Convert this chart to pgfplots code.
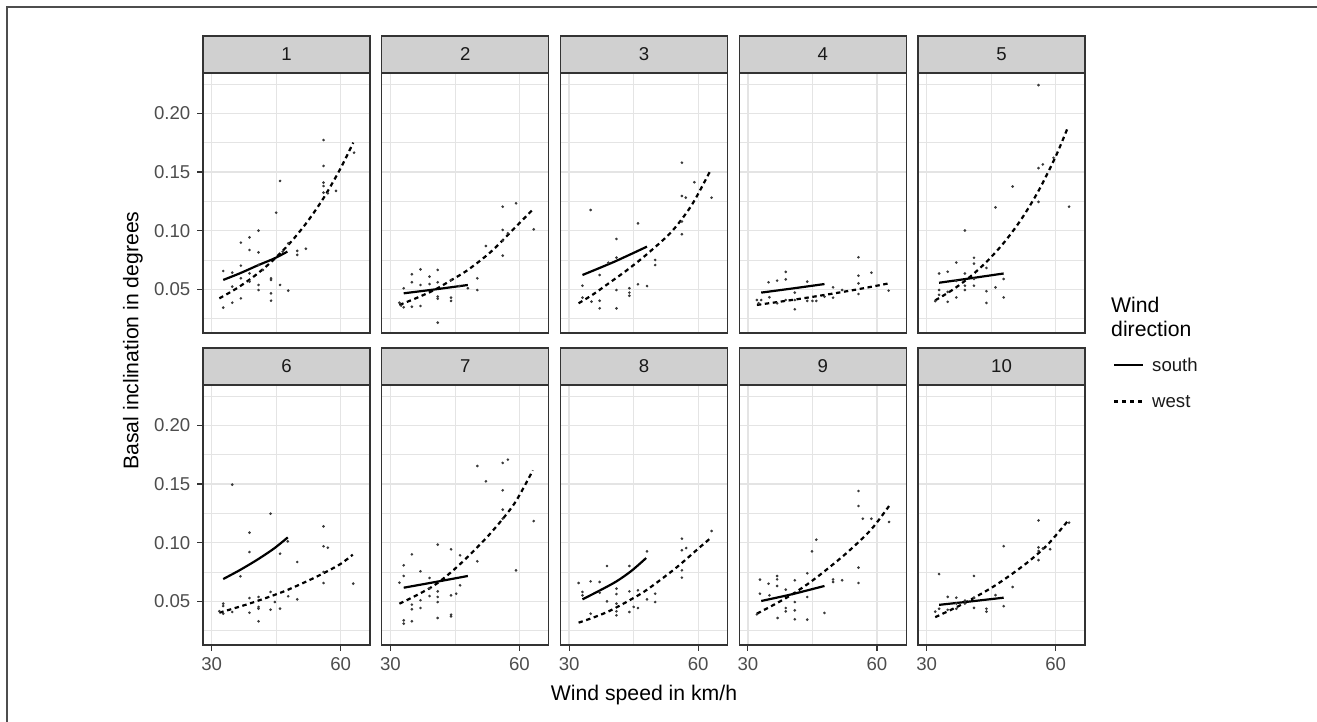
\documentclass[border=0pt]{standalone}
\usepackage{fontspec}
\setmainfont{Liberation Sans}
\usepackage{pgfplots}
\pgfplotsset{compat=1.18}
\definecolor{grey20}{HTML}{333333}
\definecolor{grey30}{HTML}{4D4D4D}
\definecolor{gridc}{HTML}{E4E4E4}
\definecolor{stripc}{HTML}{D0D0D0}
\definecolor{ptc}{HTML}{3A3A3A}
\newcommand{\tickfont}{\fontsize{9.3}{11}\selectfont}
\newcommand{\titlefont}{\fontsize{10.6}{12.5}\selectfont}
\pgfplotsset{
  facet/.style={
    scale only axis, width=83.5pt, height=130pt, anchor=south west,
    xmin=28, xmax=66.8, ymin=0.0128, ymax=0.2343,
    xtick={30,60}, ytick={0.05,0.10,0.15,0.20},
    minor xtick={45}, minor ytick={0.025,0.075,0.125,0.175,0.225},
    xticklabels={}, yticklabels={},
    xtick pos=bottom, ytick pos=left,
    grid=both,
    major grid style={line width=0.7pt, draw=gridc},
    minor grid style={line width=0.4pt, draw=gridc},
    axis line style={draw=grey20, line width=0.6pt},
    tick align=outside, major tick length=2.8pt, minor tick length=0pt,
    minor tick style={draw=none},
    tick style={color=grey20, line width=0.6pt},
    tick label style={font=\tickfont, text=grey30},
  },
  pts/.style={only marks, mark=*, mark size=0.45pt, color=ptc},
  south/.style={no marks, smooth, black, line width=1.1pt},
  west/.style={no marks, smooth, black, line width=1.1pt, dash pattern=on 2.2pt off 1.8pt},
}
\begin{document}
\begin{tikzpicture}
\useasboundingbox (0,0) rectangle (658.5pt,361pt);
\draw[grey30, line width=0.6pt] (3.5pt,0pt) -- (3.5pt,357.5pt) -- (658.5pt,357.5pt);

% ---------- Row 1 ----------
\begin{axis}[facet, name=p1, at={(101.5pt,194.5pt)}, yticklabels={0.05,0.10,0.15,0.20}, xtick style={draw=none}]
\addplot[pts] coordinates {(32.7,0.0656)(32.7,0.0344)(34.8,0.0642)(34.8,0.0523)(34.8,0.0386)(36.8,0.0898)(36.8,0.0702)(36.8,0.0594)(36.8,0.0423)(38.8,0.0943)(38.8,0.0835)(38.8,0.0636)(38.8,0.0565)(40.9,0.1000)(40.9,0.0815)(40.9,0.0707)(40.9,0.0537)(40.9,0.0494)(41.9,0.0665)(43.8,0.0594)(43.8,0.0580)(43.8,0.0466)(43.8,0.0403)(45.0,0.1153)(45.9,0.1423)(45.9,0.0537)(47.8,0.0892)(47.8,0.0489)(49.9,0.0827)(49.9,0.0793)(51.9,0.0846)(56.0,0.1772)(56.0,0.1551)(56.0,0.1409)(56.0,0.1380)(56.0,0.1324)(57.0,0.1318)(58.9,0.1338)(63.1,0.1664)(46.5,0.0821)};
\addplot[south] coordinates {(32.7,0.058)(36.8,0.0640)(40.9,0.0707)(44.5,0.0762)(47.6,0.0821)};
\addplot[west] coordinates {(31.8,0.0423)(36,0.0512)(40,0.0615)(44,0.0738)(48,0.0886)(52,0.1064)(56,0.1277)(60,0.1533)(62.9,0.1750)};
\end{axis}

\begin{axis}[facet, name=p2, at={(190.875pt,194.5pt)}, xtick style={draw=none}, ytick style={draw=none}]
\addplot[pts] coordinates {(32.1,0.0386)(32.5,0.0361)(33.1,0.0509)(33.1,0.0347)(35.0,0.0628)(35.0,0.0560)(35.0,0.0352)(37.0,0.0670)(37.0,0.0537)(37.0,0.0358)(39.1,0.0608)(39.1,0.0545)(41.0,0.0665)(41.0,0.0560)(41.0,0.0438)(41.0,0.0420)(41.0,0.0216)(44.1,0.0580)(44.1,0.0429)(44.1,0.0401)(46.0,0.0528)(48.0,0.0509)(50.2,0.0594)(50.2,0.0494)(52.2,0.0869)(56.1,0.1204)(56.1,0.1006)(56.1,0.0915)(56.1,0.0787)(57.3,0.0977)(59.2,0.1233)(63.3,0.1011)};
\addplot[south] coordinates {(33.1,0.0466)(40.5,0.0500)(48.0,0.0537)};
\addplot[west] coordinates {(32.1,0.0367)(36.0,0.0425)(40.2,0.0494)(44.0,0.0575)(48.0,0.0665)(53.4,0.0821)(58.8,0.1020)(63.1,0.1180)};
\end{axis}

\begin{axis}[facet, name=p3, at={(280.25pt,194.5pt)}, xtick style={draw=none}, ytick style={draw=none}]
\addplot[pts] coordinates {(33.1,0.0531)(33.1,0.0429)(35.0,0.1176)(35.2,0.0395)(37.1,0.0622)(37.1,0.0403)(37.1,0.0338)(39.1,0.0727)(41.0,0.0929)(41.0,0.0770)(41.0,0.0494)(41.0,0.0338)(44.0,0.0509)(44.0,0.0472)(44.0,0.0446)(46.0,0.1062)(46.0,0.0543)(48.1,0.0528)(50.0,0.0750)(50.0,0.0707)(56.2,0.1579)(56.2,0.1295)(57.1,0.1281)(56.2,0.1077)(56.2,0.0969)(59.1,0.1412)(63.1,0.1281)};
\addplot[south] coordinates {(33.1,0.0622)(40.5,0.0735)(48.1,0.0864)};
\addplot[west] coordinates {(32.2,0.0381)(35.5,0.0455)(39.2,0.0551)(43.5,0.0665)(48.1,0.0800)(53.8,0.0991)(58.5,0.1219)(62.9,0.1517)};
\end{axis}

\begin{axis}[facet, name=p4, at={(369.625pt,194.5pt)}, xtick style={draw=none}, ytick style={draw=none}]
\addplot[pts] coordinates {(32.1,0.0409)(32.5,0.0381)(33.1,0.0409)(34.8,0.0560)(35.0,0.0432)(36.8,0.0574)(36.8,0.0381)(38.8,0.0648)(38.8,0.0585)(38.8,0.0409)(40.9,0.0472)(40.9,0.0409)(40.9,0.0330)(43.8,0.0565)(43.8,0.0401)(45.0,0.0401)(45.9,0.0401)(47.8,0.0438)(49.8,0.0517)(49.8,0.0429)(51.9,0.0494)(55.7,0.0773)(55.7,0.0616)(55.7,0.0551)(55.7,0.0460)(58.7,0.0642)(62.7,0.0489)};
\addplot[south] coordinates {(33.1,0.0472)(40.5,0.0508)(47.8,0.0545)};
\addplot[west] coordinates {(32.1,0.0367)(40.2,0.0409)(47.8,0.0452)(55.5,0.0500)(62.8,0.0551)};
\end{axis}

\begin{axis}[facet, name=p5, at={(459pt,194.5pt)}, xtick style={draw=none}, ytick style={draw=none}]
\addplot[pts] coordinates {(32.0,0.0400)(32.9,0.0635)(32.9,0.0494)(32.9,0.0453)(34.9,0.0650)(34.9,0.0478)(34.9,0.0394)(36.9,0.0728)(36.9,0.0572)(36.9,0.0431)(38.9,0.1001)(38.9,0.0635)(38.9,0.0531)(38.9,0.0494)(41.0,0.0769)(41.0,0.0719)(41.0,0.0588)(41.0,0.0531)(43.9,0.0682)(43.9,0.0484)(43.9,0.0384)(46.0,0.1198)(46.0,0.0516)(47.9,0.0588)(47.9,0.0431)(50.0,0.1376)(56.0,0.2240)(56.0,0.1533)(57.0,0.1564)(56.0,0.1245)(59.5,0.1620)(63.1,0.1204)};
\addplot[south] coordinates {(32.9,0.0556)(40.4,0.0595)(47.9,0.0635)};
\addplot[west] coordinates {(32.0,0.0406)(36,0.0495)(40,0.0604)(44,0.0737)(48,0.0899)(52,0.1097)(56,0.1339)(60,0.1633)(62.9,0.1887)};
\end{axis}

% ---------- Row 2 ----------
\begin{axis}[facet, name=p6, at={(101.5pt,38.5pt)}, yticklabels={0.05,0.10,0.15,0.20}, xticklabels={30,60}]
\addplot[pts] coordinates {(31.8,0.0415)(32.7,0.0480)(32.7,0.0460)(32.7,0.0395)(34.8,0.1494)(34.8,0.0409)(36.7,0.0713)(38.8,0.1085)(38.8,0.0920)(38.8,0.0528)(38.8,0.0403)(40.9,0.0537)(40.9,0.0452)(40.9,0.0438)(40.9,0.0330)(43.7,0.1247)(43.7,0.0580)(43.7,0.0429)(44.7,0.0494)(45.9,0.0906)(45.9,0.0438)(47.7,0.1011)(47.8,0.0543)(49.9,0.0835)(49.9,0.0517)(56.0,0.1139)(56.0,0.0969)(57.0,0.0957)(56.0,0.0750)(56.0,0.0656)(62.9,0.0651)};
\addplot[south] coordinates {(32.7,0.0690)(36.5,0.0765)(40.5,0.0852)(44.5,0.0950)(47.7,0.1045)};
\addplot[west] coordinates {(31.8,0.0403)(35.0,0.0438)(38.9,0.0482)(43.5,0.0540)(47.7,0.0598)(54.4,0.0710)(59.8,0.0815)(62.8,0.0898)};
\end{axis}

\begin{axis}[facet, name=p7, at={(190.875pt,38.5pt)}, xticklabels={30,60}, ytick style={draw=none}]
\addplot[pts] coordinates {(32.1,0.0659)(33.1,0.0807)(33.1,0.0716)(33.1,0.0338)(33.1,0.0310)(35.0,0.0900)(35.0,0.0472)(35.0,0.0432)(35.0,0.0330)(37.0,0.0756)(37.0,0.0509)(37.0,0.0443)(39.1,0.0699)(39.1,0.0608)(39.1,0.0545)(41.0,0.0983)(41.0,0.0585)(41.0,0.0537)(41.0,0.0494)(41.0,0.0358)(44.1,0.0943)(44.1,0.0551)(44.1,0.0386)(44.1,0.0372)(45.3,0.0565)(46.2,0.0892)(46.2,0.0636)(50.2,0.1653)(50.2,0.0841)(52.2,0.1522)(56.1,0.1679)(57.3,0.1707)(56.1,0.1446)(56.1,0.1281)(56.1,0.1204)(59.2,0.0764)(63.3,0.1184)};
\addplot[south] coordinates {(33.1,0.0616)(40.5,0.0665)(48.0,0.0716)};
\addplot[west] coordinates {(32.1,0.0480)(36.0,0.0550)(40.2,0.0636)(44.0,0.0745)(48.0,0.0880)(53.4,0.1085)(58.8,0.1332)(63.1,0.1616)};
\end{axis}

\begin{axis}[facet, name=p8, at={(280.25pt,38.5pt)}, xticklabels={30,60}, ytick style={draw=none}]
\addplot[pts] coordinates {(32.2,0.0656)(33.1,0.0580)(33.1,0.0551)(35.0,0.0670)(35.0,0.0395)(37.1,0.0665)(37.1,0.0574)(38.8,0.0801)(38.8,0.0500)(41.0,0.0608)(41.0,0.0562)(41.0,0.0480)(41.0,0.0415)(41.0,0.0381)(44.0,0.0801)(44.0,0.0585)(44.0,0.0409)(45.0,0.0452)(46.0,0.0594)(46.0,0.0443)(48.1,0.0926)(48.1,0.0517)(50.0,0.0565)(50.0,0.0494)(56.2,0.1034)(56.2,0.0935)(56.2,0.0764)(56.2,0.0702)(57.2,0.0954)(63.1,0.1099)};
\addplot[south] coordinates {(33.1,0.0517)(37.0,0.0590)(41.0,0.0670)(44.5,0.0760)(47.9,0.0869)};
\addplot[west] coordinates {(32.2,0.0318)(35.5,0.0360)(39.2,0.0415)(43.5,0.0498)(47.9,0.0594)(54.6,0.0778)(60.0,0.0949)(62.9,0.1040)};
\end{axis}

\begin{axis}[facet, name=p9, at={(369.625pt,38.5pt)}, xticklabels={30,60}, ytick style={draw=none}]
\addplot[pts] coordinates {(32.1,0.0389)(32.8,0.0685)(32.8,0.0565)(34.8,0.0650)(35.0,0.0551)(36.8,0.0716)(36.8,0.0687)(36.8,0.0631)(36.9,0.0358)(38.8,0.0599)(38.8,0.0443)(38.8,0.0415)(40.9,0.0679)(40.9,0.0494)(40.9,0.0423)(40.9,0.0347)(43.8,0.0739)(43.8,0.0537)(43.8,0.0344)(44.9,0.0926)(45.9,0.1025)(47.8,0.0401)(49.8,0.0687)(49.8,0.0665)(51.9,0.0679)(55.7,0.1440)(55.7,0.1312)(56.7,0.1204)(58.7,0.1204)(55.7,0.0787)(55.7,0.0656)(62.8,0.1176)};
\addplot[south] coordinates {(33.1,0.0503)(40.2,0.0560)(47.8,0.0631)};
\addplot[west] coordinates {(32.1,0.0395)(36.0,0.0470)(40.2,0.0557)(44.0,0.0650)(47.8,0.0756)(53.2,0.0920)(58.6,0.1110)(62.8,0.1312)};
\end{axis}

\begin{axis}[facet, name=p10, at={(459pt,38.5pt)}, xticklabels={30,60}, ytick style={draw=none}]
\addplot[pts] coordinates {(32.9,0.0732)(32.0,0.0412)(32.9,0.0437)(34.9,0.0538)(34.9,0.0428)(36.9,0.0531)(36.9,0.0437)(36.9,0.0481)(38.9,0.0506)(38.9,0.0481)(41.0,0.0716)(41.0,0.0531)(41.0,0.0444)(43.9,0.0437)(43.9,0.0412)(46.0,0.0553)(47.9,0.0970)(47.9,0.0459)(50.0,0.0622)(56.0,0.1189)(56.0,0.0960)(56.0,0.0929)(56.0,0.0851)(57.0,0.0951)(58.7,0.0944)(63.1,0.1170)};
\addplot[south] coordinates {(32.9,0.0470)(40.4,0.0500)(47.9,0.0531)};
\addplot[west] coordinates {(32.0,0.0365)(35.5,0.0425)(39.1,0.0491)(45.1,0.0616)(49.8,0.0732)(54.1,0.0851)(58.3,0.0990)(62.9,0.1189)};
\end{axis}

% ---------- strips ----------
\foreach \n in {1,...,10}{
  \draw[fill=stripc, draw=grey20, line width=0.6pt] (p\n.north west) rectangle ([yshift=18.5pt]p\n.north east);
  \path (p\n.north) ++(0,9.25pt) node[font=\fontsize{9.3}{11}\selectfont, text=black!90] {\n};
}

% ---------- axis titles ----------
\node[font=\titlefont, rotate=90] at (66.5pt,190.75pt) {Basal inclination in degrees};
\node[font=\titlefont] at (322pt,13.5pt) {Wind speed in km/h};

% ---------- legend ----------
\node[font=\titlefont, anchor=west, inner sep=0pt] at (555.4pt,208.5pt) {Wind};
\node[font=\titlefont, anchor=west, inner sep=0pt] at (555.4pt,196.5pt) {direction};
\draw[black, line width=1.1pt] (557pt,178.5pt) -- (571.4pt,178.5pt);
\node[font=\tickfont, anchor=west, inner sep=0pt, text=black!90] at (575.9pt,178.5pt) {south};
\draw[black, line width=1.1pt, dash pattern=on 2.2pt off 1.8pt] (557pt,160.2pt) -- (571.4pt,160.2pt);
\node[font=\tickfont, anchor=west, inner sep=0pt, text=black!90] at (575.9pt,160.2pt) {west};
\end{tikzpicture}
\end{document}
